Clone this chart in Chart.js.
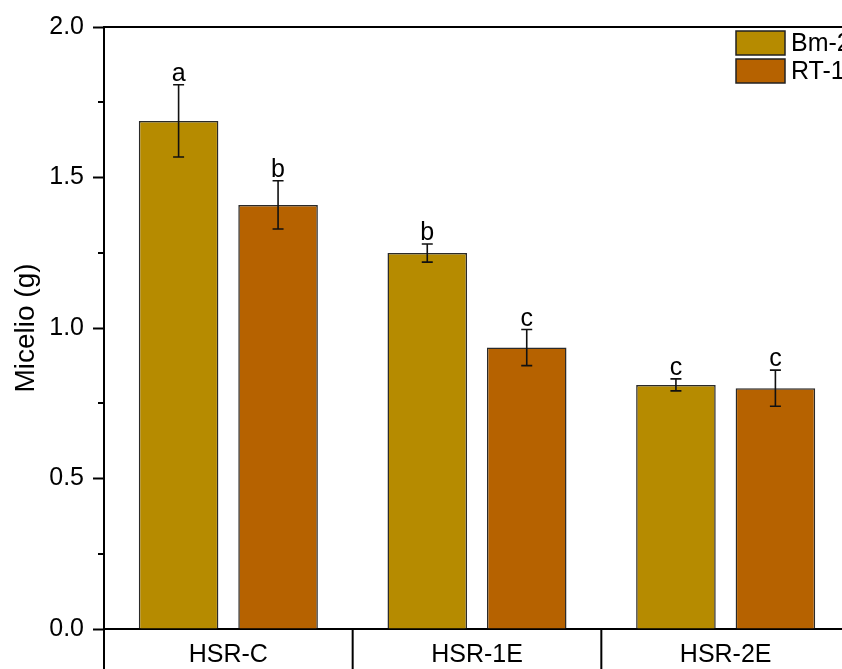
<!DOCTYPE html>
<html>
<head>
<meta charset="utf-8">
<script src="https://cdn.jsdelivr.net/npm/chart.js@4.4.1/dist/chart.umd.min.js"></script>
<style>
  html, body { margin: 0; padding: 0; background: #fff; overflow: hidden; }
  #wrap { position: absolute; left: 0; top: 0; width: 850px; height: 669px; }
</style>
</head>
<body>
<div id="wrap"><canvas id="chart"></canvas></div>
<script>
// Mycelium dry weight by treatment, two strains
const categories = ['HSR-C', 'HSR-1E', 'HSR-2E'];
const seriesNames = ['Bm-2', 'RT-1'];
const bmValues = [1.688, 1.249, 0.811];
const bmErrors = [0.12, 0.03, 0.02];
const bmLetters = ['a', 'b', 'c'];
const rtValues = [1.409, 0.935, 0.800];
const rtErrors = [0.08, 0.06, 0.06];
const rtLetters = ['b', 'c', 'c'];
const yTicks = [0, 0.5, 1.0, 1.5, 2.0];
const yMinorTicks = [0.25, 0.75, 1.25, 1.75];

const FONT = "'Liberation Sans', Arial, Helvetica, sans-serif";
Chart.defaults.font.family = FONT;
Chart.defaults.color = '#000';

// error bars, significance letters, minor ticks, frame and legend
const decorations = {
  id: 'decorations',
  afterDatasetsDraw(chart) {
    const ctx = chart.ctx;
    const y = chart.scales.y;
    ctx.save();
    chart.data.datasets.forEach((ds, di) => {
      const meta = chart.getDatasetMeta(di);
      meta.data.forEach((bar, i) => {
        const v = ds.data[i], e = ds.errors[i];
        const yTop = y.getPixelForValue(v + e);
        const yBot = y.getPixelForValue(v - e);
        const x = bar.x;
        ctx.strokeStyle = '#111';
        ctx.lineWidth = 1.6;
        ctx.beginPath();
        ctx.moveTo(x, yTop); ctx.lineTo(x, yBot);
        ctx.moveTo(x - 5.5, yTop); ctx.lineTo(x + 5.5, yTop);
        ctx.moveTo(x - 5.5, yBot); ctx.lineTo(x + 5.5, yBot);
        ctx.stroke();
        ctx.fillStyle = '#000';
        ctx.font = '25px ' + FONT;
        ctx.textAlign = 'center';
        ctx.textBaseline = 'alphabetic';
        ctx.fillText(ds.letters[i], x, yTop - 4);
      });
    });
    ctx.restore();
  },
  afterDraw(chart) {
    const ctx = chart.ctx;
    const a = chart.chartArea;
    const y = chart.scales.y;
    const x = chart.scales.x;
    ctx.save();
    ctx.strokeStyle = '#000';
    ctx.lineWidth = 2;
    ctx.beginPath();
    // frame top and right
    ctx.moveTo(a.left, a.top); ctx.lineTo(a.right, a.top);
    ctx.moveTo(a.right, a.top); ctx.lineTo(a.right, a.bottom);
    // minor ticks on the value axis
    yMinorTicks.forEach(v => {
      const py = Math.round(y.getPixelForValue(v));
      ctx.moveTo(a.left - 6, py); ctx.lineTo(a.left, py);
    });
    // category separators below the axis
    const n = categories.length;
    for (let i = 0; i <= n; i++) {
      let px;
      if (i === 0) px = a.left;
      else if (i === n) px = a.right;
      else px = (x.getPixelForValue(i - 1) + x.getPixelForValue(i)) / 2;
      ctx.moveTo(px, a.bottom); ctx.lineTo(px, chart.height);
    }
    ctx.stroke();

    // legend
    const boxW = 49, boxH = 24, gap = 4;
    const bx = a.right - 114, by0 = a.top + 4;
    chart.data.datasets.forEach((ds, i) => {
      const by = by0 + i * (boxH + gap);
      ctx.fillStyle = ds.backgroundColor;
      ctx.fillRect(bx, by, boxW, boxH);
      ctx.strokeStyle = '#222';
      ctx.lineWidth = 1.5;
      ctx.strokeRect(bx, by, boxW, boxH);
      ctx.fillStyle = '#000';
      ctx.font = '25px ' + FONT;
      ctx.textAlign = 'left';
      ctx.textBaseline = 'middle';
      ctx.fillText(ds.label, bx + boxW + 6, by + boxH / 2 + 1);
    });
    ctx.restore();
  }
};

new Chart(document.getElementById('chart'), {
  type: 'bar',
  data: {
    labels: categories,
    datasets: [
      { label: seriesNames[0], data: bmValues, errors: bmErrors, letters: bmLetters,
        backgroundColor: '#B68B00', borderColor: '#2a2a2a', borderWidth: 1.5 },
      { label: seriesNames[1], data: rtValues, errors: rtErrors, letters: rtLetters,
        backgroundColor: '#B66200', borderColor: '#2a2a2a', borderWidth: 1.5 }
    ]
  },
  options: {
    responsive: true,
    maintainAspectRatio: false,
    animation: false,
    devicePixelRatio: 1,
    layout: { padding: { top: 27, left: 0, right: 0, bottom: 0 } },
    datasets: { bar: { categoryPercentage: 0.8, barPercentage: 0.8 } },
    plugins: { legend: { display: false }, tooltip: { enabled: false } },
    scales: {
      x: {
        grid: { display: false },
        border: { display: true, color: '#000', width: 2 },
        ticks: { font: { size: 25 }, color: '#000', padding: 3 },
        afterFit(s) { s.height = 40; }
      },
      y: {
        min: 0, max: 2,
        afterBuildTicks(s) { s.ticks = yTicks.map(v => ({ value: v })); },
        grid: { drawOnChartArea: false, tickLength: 11, tickWidth: 2, tickColor: '#000' },
        border: { display: true, color: '#000', width: 2 },
        ticks: { font: { size: 25 }, color: '#000', padding: 9,
                 callback: v => Number(v).toFixed(1) },
        title: { display: true, text: 'Micelio (g)', font: { size: 28 }, color: '#000',
                 padding: { top: 9, bottom: 0 } },
        afterFit(s) { s.width = 104; }
      }
    }
  },
  plugins: [decorations]
});
</script>
</body>
</html>
